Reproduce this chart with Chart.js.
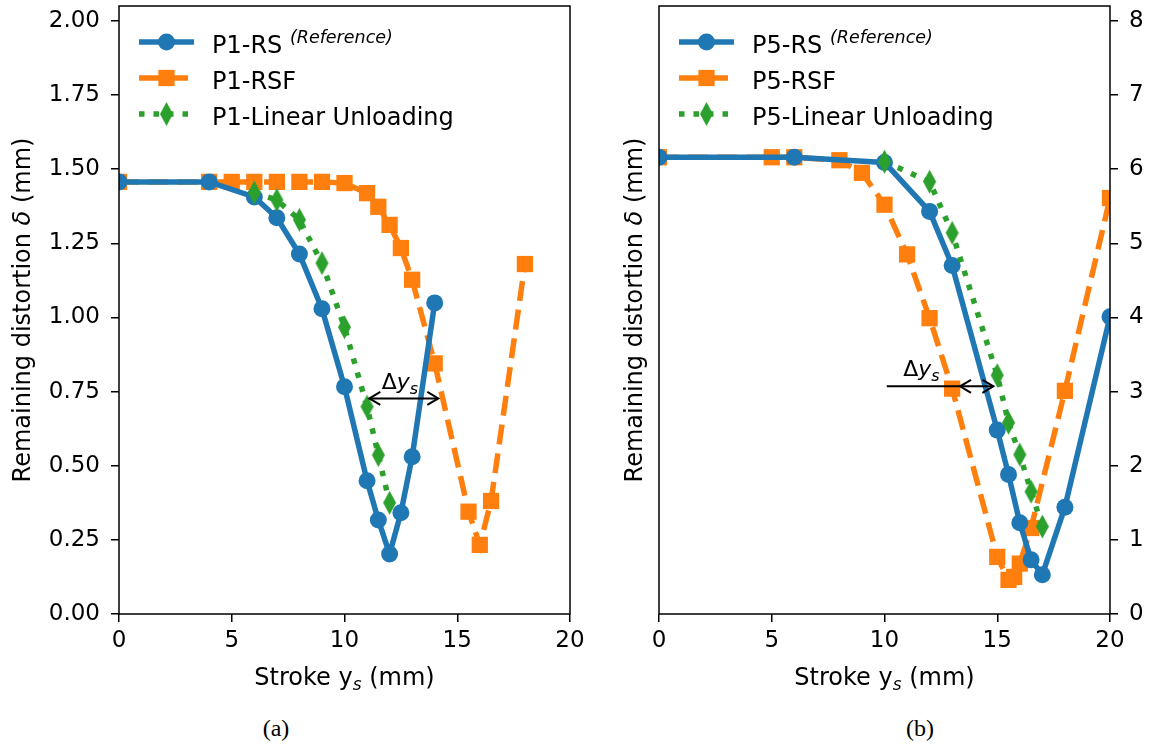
<!DOCTYPE html>
<html>
<head>
<meta charset="utf-8">
<script src="https://cdn.jsdelivr.net/npm/chart.js@4.4.1/dist/chart.umd.min.js"></script>
<style>
  body { margin: 0; background: #fff; width: 1150px; height: 748px; position: relative; overflow: hidden; }
  .panel { position: absolute; top: 0; height: 700px; }
  .cap { position: absolute; top: 715px; width: 100px; text-align: center; font: 24px "Liberation Serif", serif; color: #000; }
</style>
</head>
<body>
<div class="panel" style="left:0;width:600px"><canvas id="chartP1"></canvas></div>
<div class="panel" style="left:575px;width:575px"><canvas id="chartP5"></canvas></div>
<div class="cap" style="left:226px">(a)</div>
<div class="cap" style="left:870px">(b)</div>
<script>
// stroke (mm) vs remaining distortion (mm)
const xTicks = [0, 5, 10, 15, 20];
const yTicksP1 = [0, 0.25, 0.5, 0.75, 1, 1.25, 1.5, 1.75, 2];
const yTicksP5 = [0, 1, 2, 3, 4, 5, 6, 7, 8];

// panel (a): P1
const strokeRsP1 = [0, 4, 6, 7, 8, 9, 10, 11, 11.5, 12, 12.5, 13, 14];
const deltaRsP1 = [1.457, 1.457, 1.406, 1.336, 1.214, 1.029, 0.766, 0.449, 0.317, 0.202, 0.341, 0.530, 1.049];
const strokeRsfP1 = [0, 4, 5, 6, 7, 8, 9, 10, 11, 11.5, 12, 12.5, 13, 14, 15.5, 16, 16.5, 18];
const deltaRsfP1 = [1.457, 1.457, 1.457, 1.457, 1.457, 1.457, 1.457, 1.453, 1.419, 1.373, 1.312, 1.234, 1.127, 0.845, 0.345, 0.233, 0.381, 1.18];
const strokeLuP1 = [6, 7, 8, 9, 10, 11, 11.5, 12];
const deltaLuP1 = [1.421, 1.396, 1.329, 1.183, 0.967, 0.699, 0.536, 0.375];

// panel (b): P5
const strokeRsP5 = [0, 6, 10, 12, 13, 15, 15.5, 16, 16.5, 17, 18, 20];
const deltaRsP5 = [6.16, 6.16, 6.09, 5.43, 4.70, 2.48, 1.88, 1.23, 0.73, 0.53, 1.44, 4.01];
const strokeRsfP5 = [0, 5, 6, 8, 9, 10, 11, 12, 13, 15, 15.5, 15.75, 16, 16.5, 18, 20];
const deltaRsfP5 = [6.16, 6.16, 6.16, 6.12, 5.95, 5.52, 4.85, 3.99, 3.04, 0.77, 0.46, 0.50, 0.68, 1.16, 3.01, 5.61];
const strokeLuP5 = [10, 12, 13, 15, 15.5, 16, 16.5, 17];
const deltaLuP5 = [6.10, 5.83, 5.14, 3.22, 2.58, 2.15, 1.65, 1.18];

// Δy_s markers: [from, to, level], label position
const gapP1 = { arrow: [11.1, 14.16, 0.727], tail: null, text: [12.46, 0.759] };
const gapP5 = { arrow: [13.35, 14.83, 3.07], tail: [10.1, 13.35, 3.07], text: [11.64, 3.21] };

const BLUE = '#1f77b4', ORANGE = '#ff7f0e', GREEN = '#2ca02c';
const SANS = '"DejaVu Sans", sans-serif';
const LW = 5.5;

function thinDiamond(color) {
    const c = document.createElement('canvas');
    c.width = 15; c.height = 25;
    const g = c.getContext('2d');
    g.fillStyle = color;
    g.beginPath();
    g.moveTo(7.5, 0.5); g.lineTo(14, 12.5); g.lineTo(7.5, 24.5); g.lineTo(1, 12.5);
    g.closePath();
    g.fill();
    return c;
}
const diamondGreen = thinDiamond(GREEN);

function pts(xs, ys) {
    return xs.map((x, i) => ({ x: x, y: ys[i] }));
}

function makeDatasets(tag, xsRs, ysRs, xsRsf, ysRsf, xsLu, ysLu) {
    return [
        {
            label: tag + '-RS', data: pts(xsRs, ysRs), order: 1,
            borderColor: BLUE, backgroundColor: BLUE, borderWidth: LW, borderJoinStyle: 'round',
            pointStyle: 'circle', pointRadius: 8.5, pointBorderWidth: 0, clip: 0
        },
        {
            label: tag + '-RSF', data: pts(xsRsf, ysRsf), order: 2,
            borderColor: ORANGE, backgroundColor: ORANGE, borderWidth: LW, borderDash: [20, 9],
            pointStyle: 'rect', pointRadius: 11.5, pointBorderWidth: 0, clip: 0
        },
        {
            label: tag + '-Linear Unloading', data: pts(xsLu, ysLu), order: 0,
            borderColor: GREEN, backgroundColor: GREEN, borderWidth: LW, borderDash: [5.5, 9],
            pointStyle: diamondGreen, pointRadius: 11, pointBorderWidth: 0, clip: 0
        }
    ];
}

// mixed-style text runs: [{t, f, dy}]
function drawRuns(ctx, runs, x, y, align) {
    let w = 0;
    runs.forEach(r => { ctx.font = r.f; r.w = ctx.measureText(r.t).width; w += r.w; });
    let cx = align === 'center' ? x - w / 2 : x;
    runs.forEach(r => { ctx.font = r.f; ctx.fillText(r.t, cx, y + (r.dy || 0)); cx += r.w; });
}

function arrowHead(ctx, x, y, dir) {
    ctx.beginPath();
    ctx.moveTo(x - dir * 11, y - 6.5);
    ctx.lineTo(x, y);
    ctx.lineTo(x - dir * 11, y + 6.5);
    ctx.stroke();
}

const decor = {
    id: 'decor',
    afterDatasetsDraw(chart, args, o) {
        const { ctx, chartArea: a } = chart;
        const sx = chart.scales.x, sy = chart.scales[o.yScale];
        ctx.save();
        ctx.fillStyle = '#000';
        ctx.strokeStyle = '#000';
        ctx.textBaseline = 'alphabetic';

        // frame
        ctx.lineWidth = 1.5;
        ctx.strokeRect(a.left, a.top, a.right - a.left, a.bottom - a.top);

        // Δy_s
        const g = o.gap;
        ctx.lineWidth = 2;
        const ay = sy.getPixelForValue(g.arrow[2]);
        const ax1 = sx.getPixelForValue(g.arrow[0]), ax2 = sx.getPixelForValue(g.arrow[1]);
        ctx.beginPath();
        if (g.tail) {
            ctx.moveTo(sx.getPixelForValue(g.tail[0]), sy.getPixelForValue(g.tail[2]));
            ctx.lineTo(sx.getPixelForValue(g.tail[1]), sy.getPixelForValue(g.tail[2]));
        }
        ctx.moveTo(ax1, ay); ctx.lineTo(ax2, ay);
        ctx.stroke();
        arrowHead(ctx, ax1, ay, -1);
        arrowHead(ctx, ax2, ay, 1);
        drawRuns(ctx, [
            { t: 'Δ', f: '22px ' + SANS },
            { t: 'y', f: 'italic 22px ' + SANS },
            { t: 's', f: 'italic 16px ' + SANS, dy: 5 }
        ], sx.getPixelForValue(g.text[0]), sy.getPixelForValue(g.text[1]), 'center');

        // legend
        chart.data.datasets.forEach((ds, i) => {
            const y = a.top + 36 + i * 36;
            const x0 = a.left + 20, x1 = x0 + 55;
            ctx.save();
            ctx.strokeStyle = ds.borderColor;
            ctx.lineWidth = ds.borderWidth;
            ctx.lineCap = 'butt';
            ctx.setLineDash(ds.borderDash || []);
            ctx.beginPath(); ctx.moveTo(x0, y); ctx.lineTo(x1, y); ctx.stroke();
            ctx.setLineDash([]);
            ctx.fillStyle = ds.backgroundColor;
            Chart.helpers.drawPoint(ctx, { pointStyle: ds.pointStyle, radius: ds.pointRadius, rotation: 0, borderWidth: 0 }, (x0 + x1) / 2, y);
            ctx.restore();
            const runs = [{ t: ds.label, f: '24px ' + SANS }];
            if (o.notes[i]) {
                runs.push({ t: ' ', f: '24px ' + SANS });
                runs.push({ t: o.notes[i], f: 'italic 17.5px ' + SANS, dy: -10 });
            }
            drawRuns(ctx, runs, a.left + 93, y + 10.5, 'left');
        });

        // axis titles
        drawRuns(ctx, [
            { t: 'Stroke y', f: '24px ' + SANS },
            { t: 's', f: 'italic 17px ' + SANS, dy: 5 },
            { t: ' (mm)', f: '24px ' + SANS }
        ], (a.left + a.right) / 2, 685, 'center');

        ctx.translate(o.yTitleX, (a.top + a.bottom) / 2);
        ctx.rotate(-Math.PI / 2);
        drawRuns(ctx, [
            { t: 'Remaining distortion ', f: '24px ' + SANS },
            { t: 'δ', f: 'italic 24px ' + SANS },
            { t: ' (mm)', f: '24px ' + SANS }
        ], 0, 8, 'center');
        ctx.restore();
    }
};

function axisX() {
    return {
        type: 'linear', min: 0, max: 20,
        afterBuildTicks: s => { s.ticks = xTicks.map(v => ({ value: v })); },
        afterFit: s => { s.height = 86; s.paddingLeft = 0; s.paddingRight = 0; },
        ticks: { color: '#000', font: { family: SANS, size: 23 }, padding: 5, maxRotation: 0, autoSkip: false },
        grid: { drawOnChartArea: false, drawTicks: true, tickLength: 8, color: '#000', lineWidth: 1.5 },
        border: { display: false }
    };
}

function axisY(position, max, ticks, width, fmt) {
    return {
        type: 'linear', position: position, min: 0, max: max,
        afterBuildTicks: s => { s.ticks = ticks.map(v => ({ value: v })); },
        afterFit: s => { s.width = width; s.paddingTop = 0; s.paddingBottom = 0; },
        ticks: { color: '#000', font: { family: SANS, size: 23 }, padding: 11, callback: fmt },
        grid: { drawOnChartArea: false, drawTicks: true, tickLength: 8, color: '#000', lineWidth: 1.5 },
        border: { display: false }
    };
}

function makeChart(id, datasets, yAxis, padding, decorOpts) {
    return new Chart(document.getElementById(id).getContext('2d'), {
        type: 'line',
        data: { datasets: datasets },
        options: {
            responsive: true,
            maintainAspectRatio: false,
            animation: false,
            events: [],
            layout: { padding: padding, autoPadding: false },
            scales: { x: axisX(), y: yAxis },
            plugins: {
                legend: { display: false },
                tooltip: { enabled: false },
                decor: decorOpts
            }
        },
        plugins: [decor]
    });
}

makeChart('chartP1',
    makeDatasets('P1', strokeRsP1, deltaRsP1, strokeRsfP1, deltaRsfP1, strokeLuP1, deltaLuP1),
    axisY('left', 2.05, yTicksP1, 119, v => v.toFixed(2)),
    { top: 6, right: 30, left: 0, bottom: 0 },
    { yScale: 'y', gap: gapP1, notes: ['(Reference)', '', ''], yTitleX: 22 });

makeChart('chartP5',
    makeDatasets('P5', strokeRsP5, deltaRsP5, strokeRsfP5, deltaRsfP5, strokeLuP5, deltaLuP5),
    axisY('right', 8.2, yTicksP5, 40, v => String(v)),
    { top: 6, right: 0, left: 84, bottom: 0 },
    { yScale: 'y', gap: gapP5, notes: ['(Reference)', '', ''], yTitleX: 59 });
</script>
</body>
</html>
